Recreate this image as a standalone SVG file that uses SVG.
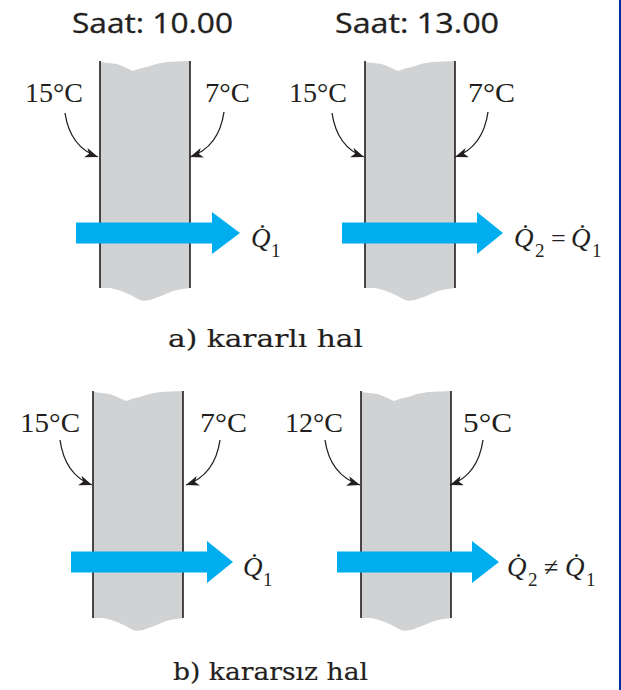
<svg xmlns="http://www.w3.org/2000/svg" xmlns:xlink="http://www.w3.org/1999/xlink" width="621" height="690" viewBox="0 0 621 690">
<style>
.temp{font-family:"Liberation Serif","Times New Roman",serif;font-size:27px;fill:#231f20}
.title{font-family:"Open Sans","Noto Sans",sans-serif;font-size:27px;fill:#231f20;stroke:#231f20;stroke-width:0.35}
.cap{font-family:"DejaVu Serif","Liberation Serif",serif;font-size:25px;fill:#231f20;stroke:#231f20;stroke-width:0.2}
.q{font-family:"Liberation Serif","Times New Roman",serif;font-style:italic;font-size:27px;fill:#231f20}
.sub{font-family:"Liberation Serif","Times New Roman",serif;font-size:19px;fill:#231f20}
.op{font-family:"Liberation Serif","Times New Roman",serif;font-size:26px;fill:#231f20}
.gray{fill:#d1d2d4}
.wl{stroke:#231f20;stroke-width:1.6;fill:none}
.heat{fill:#00aeef}
.curve{stroke:#231f20;stroke-width:1.3;fill:none;marker-end:url(#ah)}
</style>
<defs>
<marker id="ah" markerUnits="userSpaceOnUse" markerWidth="15" markerHeight="11" refX="13" refY="5" orient="auto">
<path d="M0,0 L13,5 L0,10 L3.5,5 Z" fill="#231f20"/>
</marker>
<g id="wall">
<path class="gray" d="M0,1 L17,3 Q25,6 33,10 Q40,7 47,6 Q57,2 67,1 L90,0 L90,227 Q80,228 73,230 Q62,235 50,239 Q42,241 38,238 Q25,230 10,227 L0,227 Z"/>
<path class="wl" d="M0,0 V227 M90,0 V227"/>
</g>
</defs>
<rect width="621" height="690" fill="#ffffff"/>
<rect x="619" y="0" width="2" height="690" fill="#0033a0"/>

<g id="panel-a1">
<text class="title" x="72" y="33" textLength="161" lengthAdjust="spacingAndGlyphs">Saat: 10.00</text>
<use xlink:href="#wall" x="100" y="61"/>
<text class="temp" x="25" y="102" textLength="58" lengthAdjust="spacingAndGlyphs">15°C</text>
<text class="temp" x="205" y="102" textLength="45" lengthAdjust="spacingAndGlyphs">7°C</text>
<path class="heat" d="M76,222.5 H212 V212 L240,233 L212,254 V243.5 H76 Z"/>
<text class="q" x="251" y="247">Q̇</text><text class="sub" x="271" y="257">1</text>
</g>

<g id="panel-a2">
<text class="title" x="335" y="33" textLength="164" lengthAdjust="spacingAndGlyphs">Saat: 13.00</text>
<use xlink:href="#wall" x="365" y="61"/>
<text class="temp" x="289" y="102" textLength="58" lengthAdjust="spacingAndGlyphs">15°C</text>
<text class="temp" x="468" y="102" textLength="47" lengthAdjust="spacingAndGlyphs">7°C</text>
<path class="heat" d="M342,222.5 H477 V212 L503,233 L477,254 V243.5 H342 Z"/>
<text class="q" x="514" y="247">Q̇</text><text class="sub" x="535" y="257">2</text>
<text class="op" x="551" y="247">=</text>
<text class="q" x="571" y="247">Q̇</text><text class="sub" x="592" y="257">1</text>
</g>

<g id="panel-b1">
<use xlink:href="#wall" x="93" y="391"/>
<text class="temp" x="20" y="432" textLength="60" lengthAdjust="spacingAndGlyphs">15°C</text>
<text class="temp" x="200" y="432" textLength="47" lengthAdjust="spacingAndGlyphs">7°C</text>
<path class="heat" d="M71,551.5 H207 V541 L233,562 L207,583 V572.5 H71 Z"/>
<text class="q" x="243" y="576">Q̇</text><text class="sub" x="263" y="586">1</text>
</g>

<g id="panel-b2">
<use xlink:href="#wall" x="361" y="391"/>
<text class="temp" x="285" y="432" textLength="58" lengthAdjust="spacingAndGlyphs">12°C</text>
<text class="temp" x="463" y="432" textLength="49" lengthAdjust="spacingAndGlyphs">5°C</text>
<path class="heat" d="M337,551.5 H472 V541 L499,562 L472,583 V572.5 H337 Z"/>
<text class="q" x="507" y="576">Q̇</text><text class="sub" x="528" y="586">2</text>
<text class="op" x="544" y="576">≠</text>
<text class="q" x="565" y="576">Q̇</text><text class="sub" x="586" y="586">1</text>
</g>

<g id="connectors">
<path class="curve" d="M65,113 Q70,147 98,157"/>
<path class="curve" d="M224,112 Q219,147 190,157"/>
<path class="curve" d="M332,113 Q337,147 364,157"/>
<path class="curve" d="M488,112 Q483,147 455,157"/>
<path class="curve" d="M60,440 Q65,475 92,485"/>
<path class="curve" d="M220,440 Q215,475 186,485"/>
<path class="curve" d="M325,440 Q330,475 360,485"/>
<path class="curve" d="M483,440 Q478,475 450,485"/>
</g>

<g id="captions">
<text class="cap" x="168" y="347" textLength="195" lengthAdjust="spacingAndGlyphs">a) kararlı hal</text>
<text class="cap" x="173" y="680" textLength="195" lengthAdjust="spacingAndGlyphs">b) kararsız hal</text>
</g>
</svg>
